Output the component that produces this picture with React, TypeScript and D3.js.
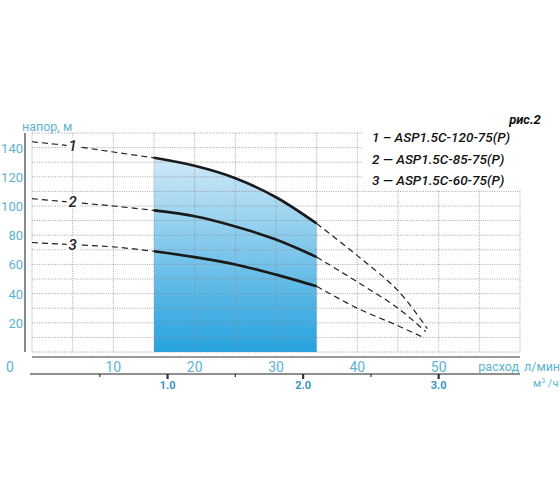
import { useEffect, useRef } from "react";
import * as d3 from "d3";

// flow, l/min
const flowTicks = [10, 20, 30, 40, 50];
const headTicks = [20, 40, 60, 80, 100, 120, 140];
const m3Ticks = [0.5, 1, 1.5, 2, 2.5, 3];
const m3Labels = [1, 2, 3];

// curve points [flow l/min, head m]
const curve1: [number, number][] = [
  [0, 144], [5, 141], [10, 137], [15, 133], [20, 127.5], [25, 119],
  [30, 106], [35, 88], [40, 66], [45, 42], [48.6, 16],
];
const curve2: [number, number][] = [
  [0, 105], [5, 102.5], [10, 100], [15, 97], [20, 93], [25, 86],
  [30, 77], [35, 65], [40, 48], [45, 30], [48.4, 14],
];
const curve3: [number, number][] = [
  [0, 75], [5, 73.5], [10, 72], [15, 69], [20, 65], [25, 60],
  [30, 53], [35, 45], [40, 30], [45, 18], [48.1, 10],
];
const curves = [curve1, curve2, curve3];
const curveNames = ["1", "2", "3"];
const legendItems = [
  "1 – ASP1.5C-120-75(P)",
  "2 — ASP1.5C-85-75(P)",
  "3 — ASP1.5C-60-75(P)",
];
const workRange = [15, 35];

const W = 560;
const H = 504;
const TEAL = "#5cb3d0";
const FONT = "Roboto, 'DejaVu Sans', sans-serif";

export default function App() {
  const ref = useRef<SVGSVGElement>(null);

  useEffect(() => {
    if (!ref.current) return;
    const svg = d3.select(ref.current);
    svg.selectAll("*").remove();

    const x = d3.scaleLinear().domain([0, 60]).range([32, 520]);
    const y = d3.scaleLinear().domain([0, 150]).range([352, 133]);
    const xm = d3.scaleLinear().domain([0, 3.6]).range([x(0), x(60)]);

    const defs = svg.append("defs");
    const grad = defs
      .append("linearGradient")
      .attr("id", "blueFill")
      .attr("x1", 0).attr("y1", 0).attr("x2", 0).attr("y2", 1);
    grad.append("stop").attr("offset", "0%").attr("stop-color", "#d0e9f8");
    grad.append("stop").attr("offset", "100%").attr("stop-color", "#25a2de");

    const smooth = d3.curveCatmullRom.alpha(0.5);

    // working range area under curve 1
    const inRange = (p: [number, number]) => p[0] >= workRange[0] && p[0] <= workRange[1];
    const area = d3
      .area<[number, number]>()
      .x((d) => x(d[0]))
      .y0(y(0))
      .y1((d) => y(d[1]))
      .curve(smooth);
    svg
      .append("path")
      .attr("d", area(curve1.filter(inRange)))
      .attr("fill", "url(#blueFill)");

    // grid
    const grid = svg.append("g").attr("stroke", "#8f8f8f").attr("stroke-width", 0.8).attr("stroke-dasharray", "1,1.3");
    d3.range(0, 61, 5).forEach((v) => {
      grid.append("line").attr("x1", x(v)).attr("x2", x(v)).attr("y1", y(150)).attr("y2", y(0));
    });
    d3.range(0, 151, 10).forEach((v) => {
      grid.append("line").attr("x1", x(0)).attr("x2", x(60)).attr("y1", y(v)).attr("y2", y(v));
    });

    // legend box hides grid
    svg.append("rect").attr("x", 362).attr("y", 127).attr("width", 160).attr("height", 62).attr("fill", "#fff");

    // axes
    svg.append("line").attr("x1", 25).attr("x2", 25).attr("y1", y(150)).attr("y2", y(0))
      .attr("stroke", "#8a8a8a").attr("stroke-width", 2);
    svg.append("line").attr("x1", x(0)).attr("x2", x(60)).attr("y1", 357).attr("y2", 357)
      .attr("stroke", "#7a7a7a").attr("stroke-width", 1.5);
    svg.append("line").attr("x1", 30).attr("x2", x(60)).attr("y1", 374).attr("y2", 374)
      .attr("stroke", "#6a6a6a").attr("stroke-width", 1.5);
    m3Ticks.forEach((t) => {
      const major = Number.isInteger(t);
      svg.append("line").attr("x1", xm(t)).attr("x2", xm(t)).attr("y1", 374).attr("y2", major ? 379 : 377)
        .attr("stroke", "#333").attr("stroke-width", major ? 2.2 : 1.2);
    });

    // curves: dashed outside the working range, solid inside
    const line = d3
      .line<[number, number]>()
      .x((d) => x(d[0]))
      .y((d) => y(d[1]))
      .curve(smooth);
    curves.forEach((c, i) => {
      const left = c.filter((p) => p[0] <= workRange[0]);
      const mid = c.filter(inRange);
      const right = c.filter((p) => p[0] >= workRange[1]);
      [left, right].forEach((seg) => {
        svg.append("path").attr("d", line(seg)).attr("fill", "none")
          .attr("stroke", "#222").attr("stroke-width", 1.2).attr("stroke-dasharray", "6,4");
      });
      svg.append("path").attr("d", line(mid)).attr("fill", "none")
        .attr("stroke", "#1a1a1a").attr("stroke-width", 2.6);

      // curve number on the dashed line
      const p = c[1];
      svg.append("rect").attr("x", x(p[0]) - 6).attr("y", y(p[1]) - 8).attr("width", 12).attr("height", 14).attr("fill", "#fff");
      svg.append("text").attr("x", x(p[0])).attr("y", y(p[1]) + 5)
        .attr("text-anchor", "middle").attr("font-style", "italic").attr("font-weight", 500).attr("font-size", 15)
        .attr("font-family", FONT).attr("fill", "#222").text(curveNames[i]);
    });

    // y labels
    headTicks.forEach((t) => {
      svg.append("text").attr("x", 23).attr("y", y(t) + 5).attr("text-anchor", "end")
        .attr("font-size", 13).attr("font-family", FONT).attr("fill", TEAL).text(t);
    });
    svg.append("text").attr("x", 10).attr("y", 372).attr("text-anchor", "middle")
      .attr("font-size", 14).attr("font-family", FONT).attr("fill", TEAL).text("0");
    svg.append("text").attr("x", 22).attr("y", 131)
      .attr("font-size", 12.5).attr("font-family", FONT).attr("fill", TEAL).text("напор, м");

    // x labels
    flowTicks.forEach((t) => {
      svg.append("text").attr("x", x(t)).attr("y", 372).attr("text-anchor", "middle")
        .attr("font-size", 14).attr("font-family", FONT).attr("fill", TEAL).text(t);
    });
    m3Labels.forEach((t) => {
      svg.append("text").attr("x", xm(t)).attr("y", 389).attr("text-anchor", "middle")
        .attr("font-size", 11).attr("font-weight", "bold").attr("font-family", FONT)
        .attr("fill", "#3d93bf").text(t.toFixed(1));
    });
    svg.append("text").attr("x", 519).attr("y", 371).attr("text-anchor", "end")
      .attr("font-size", 12.5).attr("font-family", FONT).attr("fill", TEAL).text("расход");
    svg.append("text").attr("x", 524).attr("y", 371)
      .attr("font-size", 12.5).attr("font-family", FONT).attr("fill", TEAL).text("л/мин");
    const m3 = svg.append("text").attr("x", 533).attr("y", 387)
      .attr("font-size", 11).attr("font-family", FONT).attr("fill", TEAL);
    m3.append("tspan").text("м");
    m3.append("tspan").attr("font-size", 7).attr("dy", -4).text("3");
    m3.append("tspan").attr("dy", 4).text(" /ч");

    // legend
    legendItems.forEach((t, i) => {
      svg.append("text").attr("x", 372).attr("y", 142 + i * 21.5)
        .attr("font-size", 13.5).attr("font-style", "italic").attr("font-weight", 500).attr("font-family", FONT)
        .attr("fill", "#111").text(t);
    });
    svg.append("text").attr("x", 525).attr("y", 124).attr("text-anchor", "middle")
      .attr("font-size", 13).attr("font-style", "italic").attr("font-weight", "bold")
      .attr("font-family", FONT).attr("fill", "#111").text("рис.2");
  }, []);

  return (
    <div style={{ position: "absolute", left: 0, top: 0, width: W, height: H, background: "#fff" }}>
      <svg ref={ref} width={W} height={H} style={{ display: "block" }} />
    </div>
  );
}
